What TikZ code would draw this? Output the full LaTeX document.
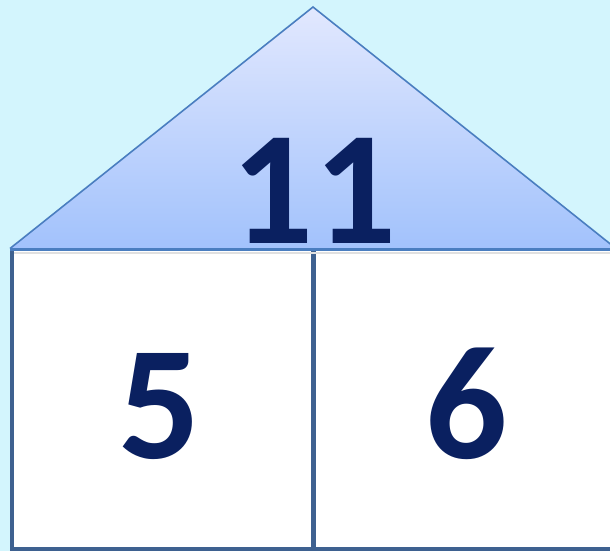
\documentclass[tikz,border=0pt]{standalone}
\usepackage{fontspec}
\setmainfont{Carlito}
\definecolor{bgcyan}{RGB}{211,245,253}
\definecolor{triTop}{RGB}{226,232,254}
\definecolor{triBot}{RGB}{162,194,252}
\definecolor{triLine}{RGB}{74,126,192}
\definecolor{boxLine}{RGB}{62,97,144}
\definecolor{navy}{RGB}{10,32,96}
\tikzset{
  boxline/.style={draw=boxLine, line width=4.5pt},
  numtext/.style={text=navy, font=\fontsize{162}{162}\selectfont\bfseries, inner sep=0pt, anchor=base}
}
\begin{document}
\begin{tikzpicture}[x=1pt,y=-1pt]
\useasboundingbox (0,0) rectangle (610,551);
\fill[bgcyan] (0,0) rectangle (610,551);
\begin{scope}
\clip (0,0) rectangle (610,551);
% boxes
\fill[white] (12,250) rectangle (640,549);
\draw[boxline] (12,250) -- (12,549) -- (640,549);
\coordinate (midtop) at (313.5,250);
\coordinate (midbot) at (313.5,549);
\draw[boxline] (midtop) -- (midbot);
% roof
\coordinate (apex) at (313,7);
\coordinate (lc) at (10,248.5);
\coordinate (rc) at (616,248.5);
\shade[top color=triTop, bottom color=triBot] (apex) -- (rc) -- (lc) -- cycle;
\draw[triLine, line width=1.6pt, line join=miter] (lc) -- (apex) -- (rc);
\draw[draw=triLine, line width=3pt] (10,249.5) -- (640,249.5);
\fill[black!12] (14,252) rectangle (640,254);
% numbers
\node[numtext] (top) at (314,243) {11};
\node[numtext] (left) at (160,458) {5};
\node[numtext] (right) at (467,458.5) {6};
\end{scope}
\end{tikzpicture}
\end{document}
